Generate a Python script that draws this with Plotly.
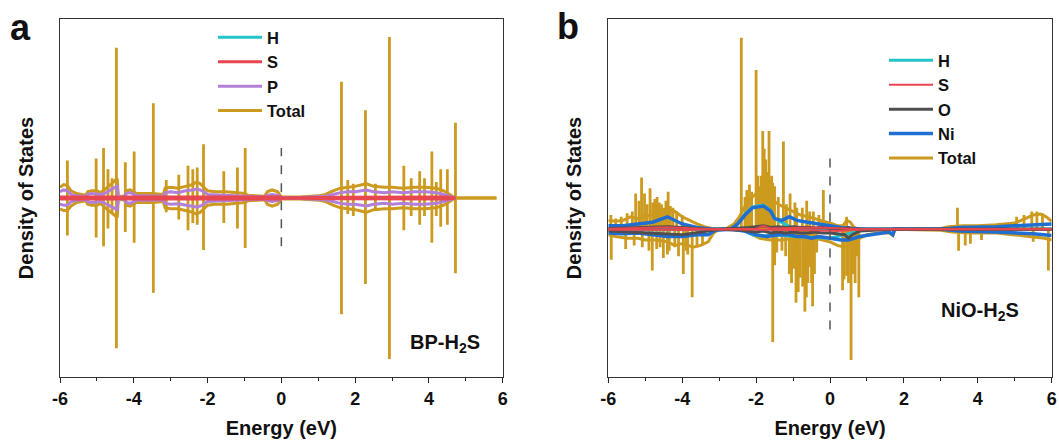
import plotly.graph_objects as go

# ===================== Panel a : BP-H2S =====================
a_env_E = [-6.0, -5.9, -5.8, -5.7, -5.55, -5.3, -5.25, -5.15, -5.0, -4.9,
           -4.8, -4.7, -4.6, -4.5, -4.45, -4.42, -4.25, -4.2, -4.1, -4.0,
           -3.93, -3.8, -3.5, -3.2, -3.15, -3.0, -2.8, -2.6, -2.4, -2.3,
           -2.2, -2.1, -2.0, -1.8, -1.5, -1.2, -1.0, -0.9, -0.6, -0.45,
           -0.38, -0.25, -0.1, -0.02, 0.0, 0.5, 1.0, 1.2, 1.4, 1.6,
           1.8, 2.0, 2.3, 2.5, 2.8, 3.0, 3.3, 3.6, 3.9, 4.2,
           4.4, 4.6, 4.72, 5.83]
a_tot_up = [0.06, 0.075, 0.07, 0.04, 0.025, 0.015, 0.035, 0.04, 0.04, 0.03,
            0.045, 0.06, 0.08, 0.10, 0.11, 0.01, 0.01, 0.04, 0.045, 0.035,
            0.025, 0.025, 0.025, 0.02, 0.055, 0.06, 0.055, 0.065, 0.075, 0.09,
            0.08, 0.06, 0.04, 0.035, 0.035, 0.03, 0.025, 0.015, 0.012, 0.01,
            0.035, 0.045, 0.035, 0.01, 0.005, 0.006, 0.012, 0.02, 0.04, 0.055,
            0.06, 0.065, 0.08, 0.065, 0.06, 0.06, 0.055, 0.06, 0.06, 0.055,
            0.04, 0.015, 0.0, 0.0]
a_tot_dn = [-0.06, -0.07, -0.07, -0.045, -0.025, -0.015, -0.035, -0.04, -0.04, -0.03,
            -0.05, -0.065, -0.085, -0.10, -0.11, -0.01, -0.01, -0.04, -0.045, -0.035,
            -0.025, -0.025, -0.025, -0.02, -0.055, -0.06, -0.06, -0.07, -0.08, -0.09,
            -0.08, -0.06, -0.04, -0.035, -0.035, -0.03, -0.025, -0.015, -0.012, -0.01,
            -0.035, -0.045, -0.035, -0.01, -0.005, -0.006, -0.012, -0.02, -0.04, -0.055,
            -0.06, -0.065, -0.08, -0.065, -0.06, -0.06, -0.055, -0.06, -0.06, -0.055,
            -0.04, -0.015, 0.0, 0.0]
a_P_E = [-6.0, -5.9, -5.8, -5.7, -5.55, -5.3, -5.25, -5.15, -5.0, -4.9,
         -4.8, -4.7, -4.6, -4.5, -4.45, -4.42, -4.25, -4.2, -4.1, -4.0,
         -3.93, -3.8, -3.5, -3.2, -3.15, -3.0, -2.8, -2.6, -2.4, -2.3,
         -2.2, -2.1, -2.0, -1.8, -1.5, -1.2, -1.0, -0.9, -0.6, -0.45,
         -0.38, -0.25, -0.1, -0.02, 0.0, 0.5, 1.0, 1.2, 1.4, 1.6,
         1.8, 2.0, 2.3, 2.5, 2.8, 3.0, 3.3, 3.6, 3.9, 4.2,
         4.4, 4.6, 4.72]
a_P_up = [0.035, 0.045, 0.04, 0.02, 0.012, 0.008, 0.02, 0.025, 0.022, 0.018,
          0.025, 0.035, 0.05, 0.06, 0.065, 0.005, 0.005, 0.025, 0.03, 0.02,
          0.012, 0.012, 0.012, 0.01, 0.03, 0.035, 0.03, 0.04, 0.045, 0.05,
          0.045, 0.035, 0.02, 0.018, 0.018, 0.015, 0.012, 0.008, 0.006, 0.005,
          0.015, 0.02, 0.015, 0.004, 0.002, 0.003, 0.006, 0.01, 0.02, 0.03,
          0.035, 0.035, 0.045, 0.035, 0.03, 0.035, 0.03, 0.035, 0.035, 0.03,
          0.02, 0.008, 0.0]
a_P_dn = [-0.035, -0.04, -0.04, -0.022, -0.012, -0.008, -0.02, -0.025, -0.022, -0.018,
          -0.028, -0.038, -0.05, -0.06, -0.065, -0.005, -0.005, -0.025, -0.03, -0.02,
          -0.012, -0.012, -0.012, -0.01, -0.03, -0.035, -0.032, -0.04, -0.045, -0.05,
          -0.045, -0.035, -0.02, -0.018, -0.018, -0.015, -0.012, -0.008, -0.006, -0.005,
          -0.015, -0.02, -0.015, -0.004, -0.002, -0.003, -0.006, -0.01, -0.02, -0.03,
          -0.035, -0.035, -0.045, -0.035, -0.03, -0.035, -0.03, -0.035, -0.035, -0.03,
          -0.02, -0.008, 0.0]
a_S_E = [-6.0, -4.45, -4.42, -4.25, -0.4, -0.02, 0.0, 1.5, 4.5, 4.72]
a_S_up = [0.006, 0.006, 0.001, 0.005, 0.006, 0.006, 0.0, 0.004, 0.006, 0.0]
a_S_dn = [-0.006, -0.006, -0.001, -0.005, -0.006, -0.006, 0.0, -0.004, -0.006, 0.0]
a_H_E = [-6.0, -4.42, -0.02, 0.0, 1.5, 4.72]
a_H_up = [0.003, 0.003, 0.003, 0.0, 0.002, 0.0]
a_H_dn = [-0.003, -0.003, -0.003, 0.0, -0.002, 0.0]
# sharp peaks of the total DOS (energy, spin-up height, spin-down depth)
a_spk_E = [-5.80, -5.02, -4.82, -4.70, -4.59, -4.47, -4.23, -3.99, -3.47, -3.12,
           -2.78, -2.53, -2.40, -2.28, -2.11, -1.56, -1.19, -0.98, 1.63, 1.80,
           1.95, 2.28, 2.55, 2.93, 3.32, 3.52, 3.75, 3.88, 4.08, 4.20,
           4.32, 4.50, 4.72]
a_spk_up = [0.21, 0.22, 0.28, 0.16, 0.11, 0.84, 0.20, 0.26, 0.53, 0.10,
            0.13, 0.18, 0.16, 0.17, 0.30, 0.15, 0.17, 0.28, 0.65, 0.10,
            0.08, 0.49, 0.08, 0.90, 0.18, 0.11, 0.15, 0.11, 0.26, 0.09,
            0.16, 0.16, 0.42]
a_spk_dn = [-0.21, -0.22, -0.27, -0.17, -0.09, -0.84, -0.19, -0.25, -0.53, -0.08,
            -0.12, -0.18, -0.14, -0.15, -0.29, -0.14, -0.17, -0.28, -0.65, -0.09,
            -0.10, -0.48, -0.07, -0.90, -0.18, -0.10, -0.15, -0.10, -0.25, -0.10,
            -0.16, -0.15, -0.42]
a_fermi = [-0.27, 0.28]

# ===================== Panel b : NiO-H2S =====================
b_tot_E_up = [-6.0, -5.8, -5.6, -5.4, -5.2, -5.0, -4.8, -4.6, -4.4, -4.2,
              -4.0, -3.8, -3.6, -3.4, -3.2, -3.0, -2.8, -2.6, -2.45, -2.3,
              -2.2, -2.0, -1.8, -1.6, -1.4, -1.2, -1.0, -0.8, -0.6, -0.4,
              -0.2, 0.0, 0.2, 0.35, 0.45, 0.55, 0.65, 0.8, 1.7, 3.0,
              3.2, 3.6, 4.0, 4.5, 5.0, 5.3, 5.5, 5.7, 5.85, 6.0]
b_tot_up = [0.05, 0.045, 0.05, 0.07, 0.06, 0.075, 0.08, 0.09, 0.11, 0.10,
            0.07, 0.05, 0.03, 0.015, 0.005, 0.0, 0.005, 0.03, 0.07, 0.13,
            0.16, 0.20, 0.19, 0.17, 0.14, 0.12, 0.10, 0.08, 0.07, 0.06,
            0.045, 0.035, 0.02, 0.02, 0.05, 0.04, 0.01, 0.0, 0.0, 0.005,
            0.015, 0.02, 0.02, 0.025, 0.035, 0.06, 0.08, 0.085, 0.07, 0.045]
b_tot_E_dn = [-6.0, -5.8, -5.5, -5.2, -5.0, -4.7, -4.4, -4.2, -4.0, -3.7,
              -3.5, -3.3, -3.15, -3.0, -2.6, -2.3, -2.1, -1.9, -1.6, -1.3,
              -1.0, -0.7, -0.4, -0.2, 0.0, 0.2, 0.4, 0.6, 0.8, 1.0,
              1.3, 1.6, 1.7, 1.75, 3.0, 3.3, 3.8, 4.5, 5.0, 5.5,
              5.8, 6.0]
b_tot_dn = [-0.03, -0.04, -0.05, -0.05, -0.06, -0.06, -0.07, -0.09, -0.08, -0.10,
            -0.09, -0.07, -0.02, 0.0, 0.0, -0.01, -0.03, -0.05, -0.06, -0.06,
            -0.05, -0.045, -0.05, -0.06, -0.07, -0.09, -0.10, -0.08, -0.05, -0.03,
            -0.02, -0.02, -0.035, 0.0, -0.005, -0.015, -0.02, -0.02, -0.03, -0.04,
            -0.05, -0.06]
b_spk_E_up = [-5.93, -5.80, -5.65, -5.49, -5.35, -5.26, -5.17, -5.10, -5.02, -4.95,
              -4.87, -4.80, -4.74, -4.68, -4.62, -4.56, -4.50, -4.44, -4.38, -4.32,
              -4.25, -4.15, -4.00, -2.40, -2.30, -2.25, -2.18, -2.12, -2.00, -1.95,
              -1.90, -1.86, -1.82, -1.78, -1.74, -1.70, -1.65, -1.62, -1.58, -1.55,
              -1.50, -1.40, -1.26, -1.18, -1.08, -0.95, -0.90, -0.75, -0.63, -0.55,
              -0.45, -0.30, -0.18, 0.45, 3.45, 5.05, 5.25, 5.46, 5.60, 5.75]
b_spk_up = [0.08, 0.06, 0.07, 0.09, 0.10, 0.20, 0.16, 0.29, 0.20, 0.14,
            0.23, 0.15, 0.17, 0.18, 0.15, 0.14, 0.12, 0.16, 0.21, 0.13,
            0.12, 0.10, 0.08, 1.07, 0.18, 0.22, 0.25, 0.21, 0.89, 0.30,
            0.24, 0.30, 0.55, 0.45, 0.39, 0.32, 0.55, 0.28, 0.30, 0.26,
            0.24, 0.18, 0.49, 0.14, 0.20, 0.15, 0.12, 0.12, 0.16, 0.10,
            0.10, 0.08, 0.22, 0.07, 0.12, 0.07, 0.08, 0.10, 0.10, 0.09]
b_spk_E_dn = [-5.92, -5.53, -5.30, -5.08, -4.90, -4.81, -4.69, -4.60, -4.51, -4.40,
              -4.35, -4.20, -4.10, -3.97, -3.90, -3.85, -3.73, -3.60, -3.45, -1.55,
              -1.50, -1.44, -1.30, -1.20, -1.10, -1.04, -0.98, -0.92, -0.86, -0.81,
              -0.74, -0.68, -0.64, -0.60, -0.54, -0.50, -0.47, -0.42, -0.36, 0.34,
              0.38, 0.45, 0.50, 0.57, 0.62, 0.68, 0.72, 0.78, 3.48, 3.66,
              3.80, 4.10, 5.50, 5.91]
b_spk_dn = [-0.17, -0.11, -0.09, -0.10, -0.12, -0.23, -0.11, -0.10, -0.16, -0.14,
            -0.12, -0.10, -0.15, -0.25, -0.12, -0.14, -0.38, -0.10, -0.08, -0.63,
            -0.20, -0.13, -0.12, -0.15, -0.25, -0.30, -0.22, -0.41, -0.35, -0.27,
            -0.32, -0.46, -0.38, -0.30, -0.21, -0.30, -0.43, -0.25, -0.13, -0.34,
            -0.28, -0.26, -0.30, -0.73, -0.25, -0.30, -0.15, -0.38, -0.12, -0.09,
            -0.08, -0.06, -0.07, -0.23]
b_Ni_E_up = [-6.0, -5.6, -5.2, -4.8, -4.4, -4.2, -4.0, -3.6, -3.2, -2.7,
             -2.5, -2.3, -2.1, -1.8, -1.6, -1.5, -1.3, -1.1, -0.9, -0.6,
             -0.3, 0.0, 0.3, 0.6, 1.0, 3.0, 3.5, 4.5, 5.5, 6.0]
b_Ni_up = [0.02, 0.02, 0.03, 0.04, 0.07, 0.05, 0.03, 0.01, 0.0, 0.0,
           0.03, 0.08, 0.12, 0.13, 0.10, 0.06, 0.05, 0.07, 0.05, 0.04,
           0.03, 0.02, 0.01, 0.005, 0.0, 0.0, 0.01, 0.015, 0.025, 0.03]
b_Ni_E_dn = [-6.0, -5.6, -5.2, -4.8, -4.4, -4.0, -3.6, -3.3, -3.1, -2.7,
             -2.3, -2.0, -1.7, -1.4, -1.1, -0.9, -0.7, -0.5, -0.3, 0.0,
             0.3, 0.5, 0.8, 1.1, 1.4, 1.6, 1.7, 1.75, 3.0, 3.5,
             4.5, 5.5, 6.0]
b_Ni_dn = [-0.02, -0.025, -0.02, -0.03, -0.04, -0.04, -0.03, -0.03, -0.005, 0.0,
           -0.01, -0.03, -0.04, -0.03, -0.03, -0.04, -0.04, -0.05, -0.04, -0.05,
           -0.06, -0.06, -0.04, -0.03, -0.02, -0.015, -0.03, 0.0, 0.0, -0.01,
           -0.015, -0.025, -0.035]
b_H_E = [-6.0, -2.6, -2.3, -2.1, -1.8, -1.6, -1.5, -1.0, 0.0, 1.0, 6.0]
b_H_up = [0.005, 0.0, 0.085, 0.125, 0.135, 0.105, 0.06, 0.005, 0.005, 0.0, 0.0]
b_H_dn = [-0.005, 0.0, -0.01, -0.03, -0.04, -0.03, -0.03, -0.04, -0.05, 0.0, 0.0]
b_O_E = [-6.0, -4.8, -4.4, -4.0, -3.3, -3.0, -2.4, -2.2, -2.0, -1.8,
         -1.6, -1.4, -1.2, -1.0, -0.8, -0.6, -0.4, -0.2, 0.0, 0.2,
         0.4, 0.5, 0.6, 0.8, 1.7, 6.0]
b_O_up = [0.005, 0.01, 0.015, 0.01, 0.0, 0.0, 0.005, 0.01, 0.015, 0.02,
          0.01, 0.015, 0.01, 0.015, 0.01, 0.012, 0.008, 0.01, 0.005, 0.005,
          0.004, 0.01, 0.003, 0.0, 0.0, 0.0]
b_O_dn = [-0.01, -0.02, -0.025, -0.03, -0.01, 0.0, -0.005, -0.01, -0.015, -0.01,
          -0.02, -0.015, -0.02, -0.015, -0.02, -0.02, -0.015, -0.02, -0.02, -0.025,
          -0.03, -0.05, -0.03, -0.01, 0.0, 0.0]
b_S_E = [-6.0, -5.0, -4.4, -3.8, -3.2, -2.0, -1.8, -1.6, -1.0, -0.4, 0.2, 0.5, 1.0, 6.0]
b_S_up = [0.003, 0.006, 0.012, 0.006, 0.0, 0.003, 0.02, 0.004, 0.008, 0.01, 0.006, 0.004, 0.0, 0.0]
b_S_dn = [-0.003, -0.004, -0.006, -0.004, 0.0, -0.002, -0.004, -0.003, -0.004, -0.005, -0.01, -0.006, 0.0, 0.0]
b_fermi = [-0.56, 0.41]

# x tick labels (hyphen minus as in the figure)
x_tickvals = [-6, -4, -2, 0, 2, 4, 6]
x_ticktext = ["-6", "-4", "-2", "0", "2", "4", "6"]

# ===================== styling =====================
C_TOT = "#CC9A1E"
C_H = "#22C4C8"
C_S = "#E8474F"
C_P = "#B27FD9"
C_O = "#4F4F4F"
C_NI = "#1F6FD2"
FONT = "Liberation Sans, Arial, sans-serif"
W, H = 1059, 443

fig = go.Figure()


def add_series(name, E_up, up, E_dn, dn, color, width, xa, ya, legend, rank, show=True):
    fig.add_trace(go.Scatter(
        x=list(E_up) + [None] + list(E_dn), y=list(up) + [None] + list(dn),
        mode="lines", line=dict(color=color, width=width), name=name,
        xaxis=xa, yaxis=ya, legend=legend, legendrank=rank, showlegend=show,
        connectgaps=False, hoverinfo="skip"))


def add_spikes(E, vals, color, width, xa, ya, base=None):
    xs, ys = [], []
    for i, (e, v) in enumerate(zip(E, vals)):
        b = 0.0 if base is None else base[i]
        xs += [e, e, None]
        ys += [b, v, None]
    fig.add_trace(go.Scatter(x=xs, y=ys, mode="lines", line=dict(color=color, width=width),
                             xaxis=xa, yaxis=ya, showlegend=False, hoverinfo="skip"))


# ---- panel a
add_series("Total", a_env_E, a_tot_up, a_env_E, a_tot_dn, C_TOT, 3, "x", "y", "legend", 4)
add_spikes(a_spk_E, a_spk_up, C_TOT, 2.8, "x", "y", base=a_spk_dn)
add_series("H", a_H_E, a_H_up, a_H_E, a_H_dn, C_H, 3, "x", "y", "legend", 1)
add_series("P", a_P_E, a_P_up, a_P_E, a_P_dn, C_P, 3, "x", "y", "legend", 3)
add_series("S", a_S_E, a_S_up, a_S_E, a_S_dn, C_S, 3, "x", "y", "legend", 2)

# ---- panel b
add_series("Total", b_tot_E_up, b_tot_up, b_tot_E_dn, b_tot_dn, C_TOT, 3, "x2", "y2", "legend2", 5)
add_spikes(b_spk_E_up, b_spk_up, C_TOT, 2.8, "x2", "y2")
add_spikes(b_spk_E_dn, b_spk_dn, C_TOT, 2.8, "x2", "y2")
add_series("H", b_H_E, b_H_up, b_H_E, b_H_dn, C_H, 3, "x2", "y2", "legend2", 1)
add_series("Ni", b_Ni_E_up, b_Ni_up, b_Ni_E_dn, b_Ni_dn, C_NI, 3.5, "x2", "y2", "legend2", 4)
add_series("O", b_O_E, b_O_up, b_O_E, b_O_dn, C_O, 3, "x2", "y2", "legend2", 3)
add_series("S", b_S_E, b_S_up, b_S_E, b_S_dn, C_S, 2, "x2", "y2", "legend2", 2)

ydom = [1 - 377 / H, 1 - 19 / H]
xa_common = dict(range=[-6, 6], tickmode="array", tickvals=x_tickvals, ticktext=x_ticktext,
                 ticks="outside", ticklen=5, tickwidth=1,
                 tickcolor="#222", minor=dict(dtick=1, tick0=-6, ticks="outside", ticklen=3, tickcolor="#222"),
                 showline=True, linecolor="#333", linewidth=1, mirror=True,
                 showgrid=False, zeroline=False, automargin=False,
                 tickfont=dict(family=FONT, size=18, color="#111", weight="bold"),
                 title=dict(text="Energy (eV)", standoff=13,
                            font=dict(family=FONT, size=20, color="#111", weight="bold")))
ya_common = dict(showticklabels=False, ticks="", showline=True, linecolor="#333", linewidth=1,
                 mirror=True, showgrid=False, zeroline=False, automargin=False,
                 title=dict(text="Density of States", standoff=20,
                            font=dict(family=FONT, size=20, color="#111", weight="bold")))

leg_font = dict(family=FONT, size=16.5, color="#111", weight="bold")
fig.update_layout(
    width=W, height=H, margin=dict(l=0, r=0, t=0, b=0, autoexpand=False),
    paper_bgcolor="white", plot_bgcolor="white",
    xaxis=dict(domain=[60 / W, 502.7 / W], anchor="y", **xa_common),
    yaxis=dict(domain=ydom, anchor="x", range=[-1.0, 1.0], **ya_common),
    xaxis2=dict(domain=[608.3 / W, 1051.7 / W], anchor="y2", **xa_common),
    yaxis2=dict(domain=ydom, anchor="x2", range=[-0.825, 1.175], **ya_common),
    legend=dict(x=213 / W, y=1 - 20 / H, xanchor="left", yanchor="top", itemwidth=44,
                bgcolor="rgba(0,0,0,0)", borderwidth=0, tracegroupgap=0, font=leg_font),
    legend2=dict(x=884 / W, y=1 - 43 / H, xanchor="left", yanchor="top", itemwidth=44,
                 bgcolor="rgba(0,0,0,0)", borderwidth=0, tracegroupgap=0, font=leg_font),
    shapes=[
        dict(type="line", xref="x", yref="y", x0=0, x1=0, y0=a_fermi[0], y1=a_fermi[1],
             line=dict(color="#555", width=1.5, dash="dash")),
        dict(type="line", xref="x2", yref="y2", x0=0, x1=0, y0=b_fermi[0], y1=b_fermi[1],
             line=dict(color="#555", width=1.5, dash="dash")),
    ],
    annotations=[
        dict(text="<b>a</b>", x=20 / W, y=1 - 28 / H, xref="paper", yref="paper",
             xanchor="center", yanchor="middle",
             showarrow=False, font=dict(family=FONT, size=36, color="#111")),
        dict(text="<b>b</b>", x=568 / W, y=1 - 26 / H, xref="paper", yref="paper",
             xanchor="center", yanchor="middle",
             showarrow=False, font=dict(family=FONT, size=36, color="#111")),
        dict(text="<b>BP-H<sub>2</sub>S</b>", x=445 / W, y=1 - 343 / H, xref="paper", yref="paper",
             xanchor="center", yanchor="middle",
             showarrow=False, font=dict(family=FONT, size=20, color="#111")),
        dict(text="<b>NiO-H<sub>2</sub>S</b>", x=980 / W, y=1 - 311 / H, xref="paper", yref="paper",
             xanchor="center", yanchor="middle",
             showarrow=False, font=dict(family=FONT, size=20, color="#111")),
    ],
)

fig.write_html("out.html")
